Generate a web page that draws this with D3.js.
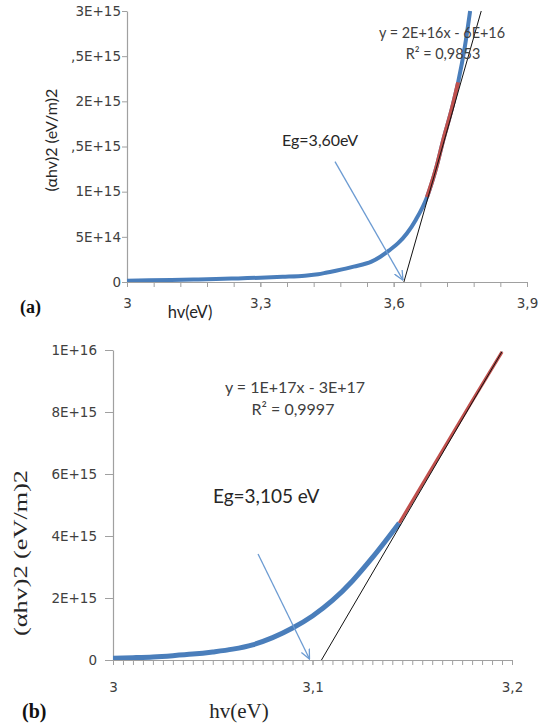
<!DOCTYPE html>
<html>
<head>
<meta charset="utf-8">
<script src="https://cdn.jsdelivr.net/npm/d3@7"></script>
<style>
  html, body { margin: 0; padding: 0; background: #fff; }
  svg { display: block; }
</style>
</head>
<body>
<svg id="chart" width="540" height="727"></svg>
<script>
// ---------- DATA: panel (a) ----------
const aCurveX = [3.00, 3.05, 3.10, 3.15, 3.20, 3.25, 3.30, 3.35, 3.40, 3.43, 3.45, 3.47, 3.51, 3.55, 3.57, 3.59, 3.61, 3.63, 3.65, 3.675, 3.695, 3.712, 3.73, 3.745, 3.76, 3.772];
const aCurveY = [1.3e13, 1.8e13, 2.3e13, 2.8e13, 3.3e13, 4.0e13, 4.8e13, 5.8e13, 7.0e13, 8.5e13, 1.05e14, 1.25e14, 1.7e14, 2.25e14, 2.8e14, 3.5e14, 4.3e14, 5.4e14, 6.9e14, 9.4e14, 1.25e15, 1.58e15, 1.9e15, 2.21e15, 2.6e15, 3.0e15];
const aFitX = [3.675, 3.695, 3.712, 3.73, 3.745];
const aFitY = [9.4e14, 1.25e15, 1.58e15, 1.9e15, 2.21e15];
const aTrendX = [3.623, 3.797];
const aTrendY = [0, 3e15];
const aArrowX = [3.468, 3.621];
const aArrowY = [1.333e15, 2.0e13];
const aYTicks = [0, 5e14, 1e15, 1.5e15, 2e15, 2.5e15, 3e15];
const aYTickLabels = ["0", "5E+14", "1E+15", ",5E+15", "2E+15", ",5E+15", "3E+15"];
const aXTicks = [3.0, 3.3, 3.6, 3.9];
const aXTickLabels = ["3", "3,3", "3,6", "3,9"];
const aXMinor = d3.range(0, 16).map(i => 3 + i * 0.06);
const aEquation = "y = 2E+16x - 6E+16";
const aR2 = "R² = 0,9853";
const aEg = "Eg=3,60eV";

// ---------- DATA: panel (b) ----------
const bCurveX = [3.000, 3.010, 3.020, 3.030, 3.040, 3.050, 3.060, 3.070, 3.080, 3.090, 3.100, 3.110, 3.120, 3.130, 3.1435];
const bCurveY = [5.5e13, 7.5e13, 1.0e14, 1.4e14, 1.9e14, 2.6e14, 3.5e14, 4.9e14, 7.2e14, 1.03e15, 1.42e15, 1.92e15, 2.55e15, 3.30e15, 4.42e15];
const bFitX = [3.1435, 3.16, 3.18, 3.195];
const bFitY = [4.42e15, 6.2e15, 8.35e15, 9.94e15];
const bTrendX = [3.1045, 3.195];
const bTrendY = [0, 9.95e15];
const bArrowX = [3.0727, 3.0985];
const bArrowY = [3.42e15, 3.0e13];
const bYTicks = [0, 2e15, 4e15, 6e15, 8e15, 1e16];
const bYTickLabels = ["0", "2E+15", "4E+15", "6E+15", "8E+15", "1E+16"];
const bXTicks = [3.0, 3.1, 3.2];
const bXTickLabels = ["3", "3,1", "3,2"];
const bXMinor = d3.range(0, 41).map(i => 3 + i * 0.005);
const bEquation = "y = 1E+17x - 3E+17";
const bR2 = "R² = 0,9997";
const bEg = "Eg=3,105 eV";

// ---------- STYLE ----------
const BLUE = "#4a7ebb", RED = "#c0504d", ARROW = "#6c9bd2", AXIS = "#a0a0a0", TXT = "#404040";
const svg = d3.select("#chart");
svg.append("rect").attr("width", 540).attr("height", 727).attr("fill", "#fff");

const defs = svg.append("defs");
defs.append("marker").attr("id", "arrowhead")
  .attr("viewBox", "0 0 10 10").attr("refX", 9.5).attr("refY", 5)
  .attr("markerWidth", 10).attr("markerHeight", 10)
  .attr("markerUnits", "userSpaceOnUse").attr("orient", "auto")
  .append("path").attr("d", "M0,0.6 L9.5,5 L0,9.4")
  .attr("fill", "none").attr("stroke", ARROW).attr("stroke-width", 1.3);

function zip(xs, ys) { return xs.map((x, i) => [x, ys[i]]); }

function panel(cfg) {
  const x = d3.scaleLinear().domain(cfg.xDomain).range(cfg.xRange);
  const y = d3.scaleLinear().domain(cfg.yDomain).range(cfg.yRange);
  const g = svg.append("g");
  const clipId = "clip" + cfg.id;
  defs.append("clipPath").attr("id", clipId).append("rect")
    .attr("x", cfg.xRange[0]).attr("y", cfg.yRange[1] - 1)
    .attr("width", cfg.xRange[1] - cfg.xRange[0] + 2)
    .attr("height", cfg.yRange[0] - cfg.yRange[1] + 1);

  // minor x ticks
  g.append("g").attr("transform", `translate(0,${cfg.yRange[0]})`)
    .call(d3.axisBottom(x).tickValues(cfg.xMinor).tickFormat("").tickSize(cfg.xTickLen).tickSizeOuter(0))
    .call(s => s.select(".domain").remove())
    .call(s => s.selectAll("line").attr("stroke", AXIS));
  // major x axis with labels
  g.append("g").attr("transform", `translate(0,${cfg.yRange[0]})`)
    .call(d3.axisBottom(x).tickValues(cfg.xTicks).tickFormat((d, i) => cfg.xLabels[i])
      .tickSize(cfg.xTickLen).tickSizeOuter(0).tickPadding(cfg.xPad))
    .call(s => s.select(".domain").attr("stroke", AXIS).attr("stroke-width", 1.2))
    .call(s => s.selectAll("line").attr("stroke", AXIS))
    .call(s => s.selectAll("text").attr("fill", TXT).attr("font-family", "DejaVu Sans").attr("font-size", cfg.tickFont));
  // y axis
  g.append("g").attr("transform", `translate(${cfg.xRange[0]},0)`)
    .call(d3.axisLeft(y).tickValues(cfg.yTicks).tickFormat((d, i) => cfg.yLabels[i])
      .tickSize(cfg.yTickLen).tickSizeOuter(0).tickPadding(cfg.yPad))
    .call(s => s.select(".domain").attr("stroke", AXIS).attr("stroke-width", 1.2))
    .call(s => s.selectAll("line").attr("stroke", AXIS))
    .call(s => s.selectAll("text").attr("fill", TXT).attr("font-family", "DejaVu Sans").attr("font-size", cfg.tickFont));

  const line = d3.line().x(d => x(d[0])).y(d => y(d[1])).curve(d3.curveMonotoneX);
  const plot = g.append("g").attr("clip-path", `url(#${clipId})`);
  plot.append("path").datum(zip(cfg.curveX, cfg.curveY)).attr("d", line)
    .attr("fill", "none").attr("stroke", BLUE).attr("stroke-width", cfg.blueW).attr("stroke-linejoin", "round");
  plot.append("path").datum(zip(cfg.fitX, cfg.fitY)).attr("d", line)
    .attr("fill", "none").attr("stroke", RED).attr("stroke-width", cfg.redW);
  plot.append("path").datum(zip(cfg.trendX, cfg.trendY)).attr("d", d3.line().x(d => x(d[0])).y(d => y(d[1])))
    .attr("fill", "none").attr("stroke", "#111").attr("stroke-width", 1);
  g.append("path").datum(zip(cfg.arrowX, cfg.arrowY)).attr("d", d3.line().x(d => x(d[0])).y(d => y(d[1])))
    .attr("fill", "none").attr("stroke", ARROW).attr("stroke-width", 1.3).attr("marker-end", "url(#arrowhead)");
  return g;
}

// ---------- PANEL (a) ----------
const ga = panel({
  id: "a", xDomain: [3, 3.9], xRange: [127, 527], yDomain: [0, 3e15], yRange: [282, 11],
  xMinor: aXMinor, xTicks: aXTicks, xLabels: aXTickLabels, xTickLen: 5, xPad: 11,
  yTicks: aYTicks, yLabels: aYTickLabels, yTickLen: 5, yPad: 1, tickFont: 13.5,
  curveX: aCurveX, curveY: aCurveY, fitX: aFitX, fitY: aFitY, trendX: aTrendX, trendY: aTrendY,
  arrowX: aArrowX, arrowY: aArrowY, blueW: 4, redW: 4
});
ga.append("text").attr("x", 442).attr("y", 38).attr("text-anchor", "middle")
  .attr("font-family", "Lato").attr("font-size", 14.4).attr("fill", TXT).text(aEquation);
ga.append("text").attr("x", 443).attr("y", 59).attr("text-anchor", "middle")
  .attr("font-family", "Lato").attr("font-size", 14.4).attr("fill", TXT).text(aR2);
ga.append("text").attr("x", 282).attr("y", 146).attr("font-family", "Lato").attr("font-size", 16)
  .attr("fill", "#262626").text(aEg);
ga.append("text").attr("x", 190).attr("y", 318).attr("text-anchor", "middle")
  .attr("font-family", "Lato").attr("font-size", 16.5).attr("fill", "#262626").text("hv(eV)");
ga.append("text").attr("transform", "translate(57,140) rotate(-90)").attr("text-anchor", "middle")
  .attr("font-family", "Lato").attr("font-size", 16).attr("fill", "#262626").text("(αhv)2  (eV/m)2");
ga.append("text").attr("x", 20).attr("y", 313).attr("font-family", "Liberation Serif")
  .attr("font-weight", "bold").attr("font-size", 18).attr("fill", "#111").text("(a)");

// ---------- PANEL (b) ----------
const gb = panel({
  id: "b", xDomain: [3, 3.2], xRange: [113, 512], yDomain: [0, 1e16], yRange: [660, 350],
  xMinor: bXMinor, xTicks: bXTicks, xLabels: bXTickLabels, xTickLen: 5, xPad: 17.5,
  yTicks: bYTicks, yLabels: bYTickLabels, yTickLen: 8, yPad: 8, tickFont: 13.5,
  curveX: bCurveX, curveY: bCurveY, fitX: bFitX, fitY: bFitY, trendX: bTrendX, trendY: bTrendY,
  arrowX: bArrowX, arrowY: bArrowY, blueW: 5, redW: 3.2
});
gb.append("text").attr("x", 295).attr("y", 393).attr("text-anchor", "middle")
  .attr("font-family", "Lato").attr("font-size", 16).attr("fill", TXT).text(bEquation);
gb.append("text").attr("x", 293).attr("y", 415).attr("text-anchor", "middle")
  .attr("font-family", "Lato").attr("font-size", 16).attr("fill", TXT).text(bR2);
gb.append("text").attr("x", 213).attr("y", 503).attr("font-family", "Lato").attr("font-size", 19)
  .attr("fill", "#262626").text(bEg);
gb.append("text").attr("x", 239).attr("y", 718).attr("text-anchor", "middle")
  .attr("font-family", "Liberation Serif").attr("font-size", 21).attr("fill", "#262626").text("hv(eV)");
gb.append("text").attr("transform", "translate(27,553) rotate(-90)").attr("text-anchor", "middle")
  .attr("font-family", "Liberation Serif").attr("font-size", 19).attr("fill", "#262626")
  .attr("textLength", 166).attr("lengthAdjust", "spacingAndGlyphs").text("(αhv)2 (eV/m)2");
gb.append("text").attr("x", 22).attr("y", 718).attr("font-family", "Liberation Serif")
  .attr("font-weight", "bold").attr("font-size", 20).attr("fill", "#111").text("(b)");
</script>
</body>
</html>
